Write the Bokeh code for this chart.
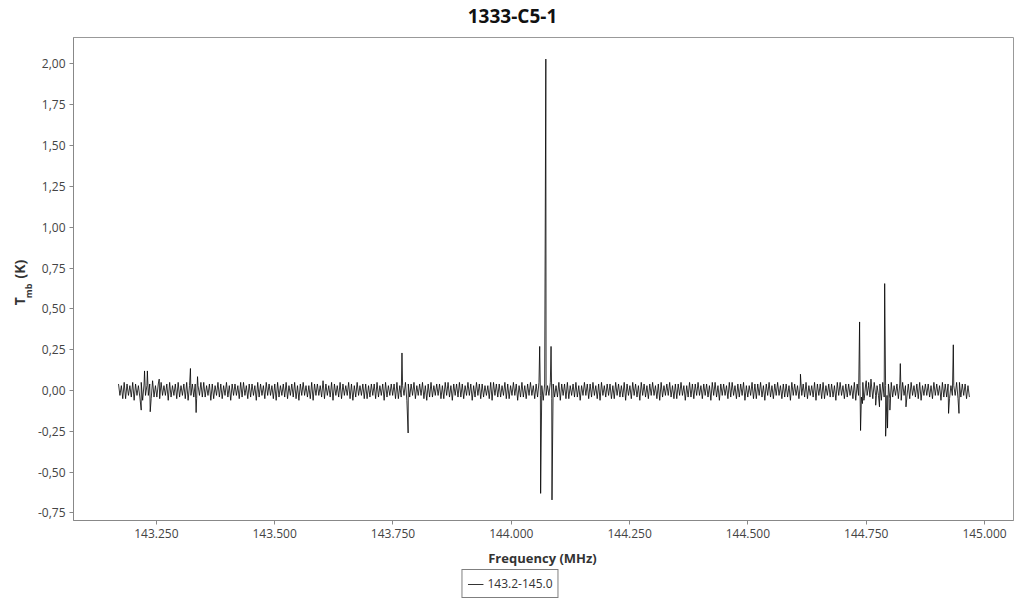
import numpy as np
from bokeh.plotting import figure
from bokeh.layouts import column, row
from bokeh.models import (FixedTicker, CustomJSTickFormatter, NumeralTickFormatter,
                          Legend, LegendItem, Label, Range1d)
from bokeh.embed import file_html
from bokeh.resources import INLINE

# ---------------- data ----------------
freq_start = 143.170   # MHz, first channel
freq_stop = 144.968    # MHz, last channel
# baseline noise, upper excursions (units of 0.01 K); even channels
noise_hi = [
    4,3,5,4,3,5,4,3,5,4,3,4,6,3,4,5,3,4,5,3,4,5,3,4,5,3,4,4,3,5,
    5,3,4,4,3,5,4,3,5,3,4,4,3,5,5,3,4,4,3,5,4,3,5,4,3,4,5,3,4,5,
    3,4,5,3,4,5,3,3,5,4,4,3,6,4,3,5,4,3,5,4,3,5,4,3,5,3,4,4,3,4,
    4,5,3,4,5,3,4,4,5,3,3,5,4,4,5,3,4,5,3,4,5,3,4,4,3,5,5,3,4,4,
    5,4,3,5,4,3,5,4,4,3,3,5,5,4,4,3,5,4,3,5,4,3,5,3,4,5,3,4,5,3,
    4,3,5,4,3,5,4,4,5,3,4,5,3,3,5,4,4,5,3,4,5,3,4,4,3,5,4,3,5,4,
    3,5,4,3,5,4,3,4,5,3,4,5,3,4,5,3,4,4,5,3,3,5,4,4,5,3,4,4,3,5,
    5,3,4,4,3,5,5,3,4,4,5,3,3,5,4,4,5,3,4,5,3,4,5,3,4,4,3,5,4,3,
    4,4,5,3,3,5,4,4,5,3,4,4,3,5,5,3,4,4,3,5,4,3,5,4,3,4,5,3,4,5,
    3,4,5,3,4,4,5,3,4,5,3,4,5,3,4,4,3,5,4,3,5,4,4,3,3,5,5,4,4,3,
]
# baseline noise, lower excursions (units of 0.01 K); odd channels
noise_lo = [
    -3,-5,-5,-3,-4,-6,-3,-4,-6,-3,-3,-5,-4,-4,-5,-3,-3,-6,-4,-3,-5,-4,-3,-5,-6,-3,-4,-5,-3,-4,
    -4,-3,-6,-5,-3,-4,-5,-3,-4,-6,-3,-3,-5,-4,-3,-5,-4,-3,-6,-4,-3,-5,-3,-3,-5,-6,-4,-3,-4,-5,
    -3,-4,-5,-6,-3,-3,-4,-5,-6,-3,-3,-4,-5,-3,-4,-6,-3,-4,-5,-3,-3,-5,-6,-4,-3,-3,-5,-5,-4,-3,
    -5,-4,-3,-6,-4,-3,-3,-5,-5,-4,-3,-6,-4,-3,-5,-3,-3,-5,-6,-4,-4,-3,-3,-5,-5,-3,-4,-6,-3,-4,
    -4,-5,-3,-3,-6,-4,-3,-5,-4,-3,-5,-6,-3,-4,-4,-3,-5,-5,-3,-3,-6,-4,-4,-5,-3,-3,-5,-4,-3,-6,
    -3,-3,-5,-4,-4,-6,-3,-5,-5,-3,-4,-4,-6,-3,-3,-5,-4,-3,-5,-6,-3,-4,-3,-5,-5,-3,-4,-4,-6,-3,
    -5,-3,-4,-6,-3,-4,-5,-3,-3,-5,-6,-4,-3,-3,-4,-5,-5,-3,-3,-6,-4,-4,-5,-3,-3,-5,-3,-4,-6,-3,
    -4,-6,-3,-3,-5,-4,-3,-5,-4,-3,-6,-4,-3,-5,-5,-3,-4,-6,-3,-4,-5,-3,-3,-5,-4,-4,-6,-3,-3,-5,
    -3,-4,-5,-3,-4,-6,-3,-5,-5,-3,-4,-4,-6,-3,-3,-5,-4,-3,-5,-6,-3,-4,-5,-3,-4,-5,-3,-3,-6,-4,
    -3,-5,-4,-3,-5,-6,-3,-4,-5,-3,-4,-5,-6,-3,-3,-4,-5,-3,-3,-6,-4,-4,-5,-3,-3,-5,-4,-3,-5,-4,
]
# lines / spikes (MHz, K)
line_freq = [143.218, 143.225, 143.231, 143.237, 143.256, 143.322, 143.334, 143.337,
             143.769, 143.782,
             144.060, 144.062, 144.073, 144.084, 144.086,
             144.611,
             144.736, 144.738, 144.742, 144.745, 144.750, 144.755, 144.760, 144.770,
             144.778, 144.789, 144.791, 144.795, 144.800, 144.822, 144.834,
             144.924, 144.934, 144.946]
line_tmb = [-0.12, 0.12, 0.12, -0.13, 0.07, 0.135, -0.135, 0.085,
            0.23, -0.26,
            0.27, -0.63, 2.03, 0.27, -0.67,
            0.10,
            0.42, -0.245, -0.08, -0.06, 0.06, 0.05, 0.07, -0.09,
            -0.10, 0.655, -0.28, -0.23, -0.12, 0.165, -0.10,
            -0.14, 0.28, -0.14]

series_name = "143.2-145.0"
title_text = "1333-C5-1"
x_label = "Frequency (MHz)"
x_ticks = [143.25, 143.5, 143.75, 144.0, 144.25, 144.5, 144.75, 145.0]
y_ticks = [-0.75, -0.5, -0.25, 0.0, 0.25, 0.5, 0.75, 1.0, 1.25, 1.5, 1.75, 2.0]

# ---------------- build spectrum ----------------
noise = np.empty(len(noise_hi) + len(noise_lo))
noise[0::2] = noise_hi
noise[1::2] = noise_lo
noise_freq = np.linspace(freq_start, freq_stop, len(noise))
fx = np.concatenate([noise_freq, np.array(line_freq)])
fy = np.concatenate([noise / 100.0, np.array(line_tmb)])
order = np.argsort(fx, kind="stable")
fx, fy = fx[order], fy[order]

FONT = "Open Sans"
TOTAL_W = 1020


def blank(w, h):
    f = figure(width=w, height=h, output_backend="svg", toolbar_location=None,
               x_range=Range1d(0, w), y_range=Range1d(h, 0),
               x_axis_type=None, y_axis_type=None, min_border=0)
    f.outline_line_color = None
    f.xgrid.visible = False
    f.ygrid.visible = False
    return f


# ---- header with the title ----
header = blank(TOTAL_W, 36)
header.add_layout(Label(x=512, y=15, text=title_text, text_align="center",
                        text_baseline="middle", text_font=FONT, text_font_size="19px",
                        text_font_style="bold", text_color="#111111"))

# ---- main plot ----
p = figure(output_backend="svg", toolbar_location=None,
           x_range=Range1d(143.0749, 145.0612), y_range=Range1d(-0.796, 2.162),
           min_border_left=38, min_border_right=8, min_border_top=1, min_border_bottom=25)
p.frame_width = 940
p.frame_height = 483
p.outline_line_color = "#999999"
p.outline_line_width = 1
p.xgrid.visible = False
p.ygrid.visible = False

r = p.line(fx, fy, line_color="black", line_width=0.8)

for ax in (p.xaxis[0], p.yaxis[0]):
    ax.axis_line_color = "#888888"
    ax.major_tick_line_color = "#888888"
    ax.major_tick_in = 0
    ax.major_tick_out = 4
    ax.minor_tick_line_color = None
    ax.major_label_text_font = FONT
    ax.major_label_text_font_size = "12px"
    ax.major_label_text_color = "#444444"
    ax.major_label_standoff = 4

p.xaxis.ticker = FixedTicker(ticks=x_ticks)
p.xaxis.formatter = NumeralTickFormatter(format="0.000")
p.yaxis.ticker = FixedTicker(ticks=y_ticks)
p.yaxis.formatter = CustomJSTickFormatter(code="return tick.toFixed(2).replace('.', ',');")

# ---- y-axis title column: T_mb (K) ----
ylab = blank(34, 509)
lab_kw = dict(angle=np.pi / 2, text_align="center", text_baseline="middle",
              text_font=FONT, text_font_style="bold", text_color="#333333")
ylab.add_layout(Label(x=19, y=278, text="T", text_font_size="14px", **lab_kw))
ylab.add_layout(Label(x=28, y=267, text="mb", text_font_size="9px", **lab_kw))
ylab.add_layout(Label(x=19, y=244, text="(K)", text_font_size="14px", **lab_kw))

# ---- footer: x-axis title and legend ----
footer = blank(TOTAL_W, 55)
footer.add_layout(Label(x=542, y=12, text=x_label, text_align="center",
                        text_baseline="middle", text_font=FONT, text_font_size="13px",
                        text_font_style="bold", text_color="#333333"))
key = footer.line(x=[-60, -50], y=[-60, -60], line_color="black", line_width=0.8)
legend = Legend(items=[LegendItem(label=series_name, renderers=[key])],
                location="bottom", orientation="horizontal",
                border_line_color="black", border_line_width=1,
                background_fill_alpha=0,
                label_text_font=FONT, label_text_font_size="12px", label_text_color="#333333",
                glyph_width=16, glyph_height=16, padding=5, spacing=0, margin=2,
                label_standoff=4, label_height=16)
footer.add_layout(legend, "center")

layout = column(header, row(ylab, p, spacing=0), footer, spacing=0)

open("out.html", "w").write(file_html(layout, INLINE))
